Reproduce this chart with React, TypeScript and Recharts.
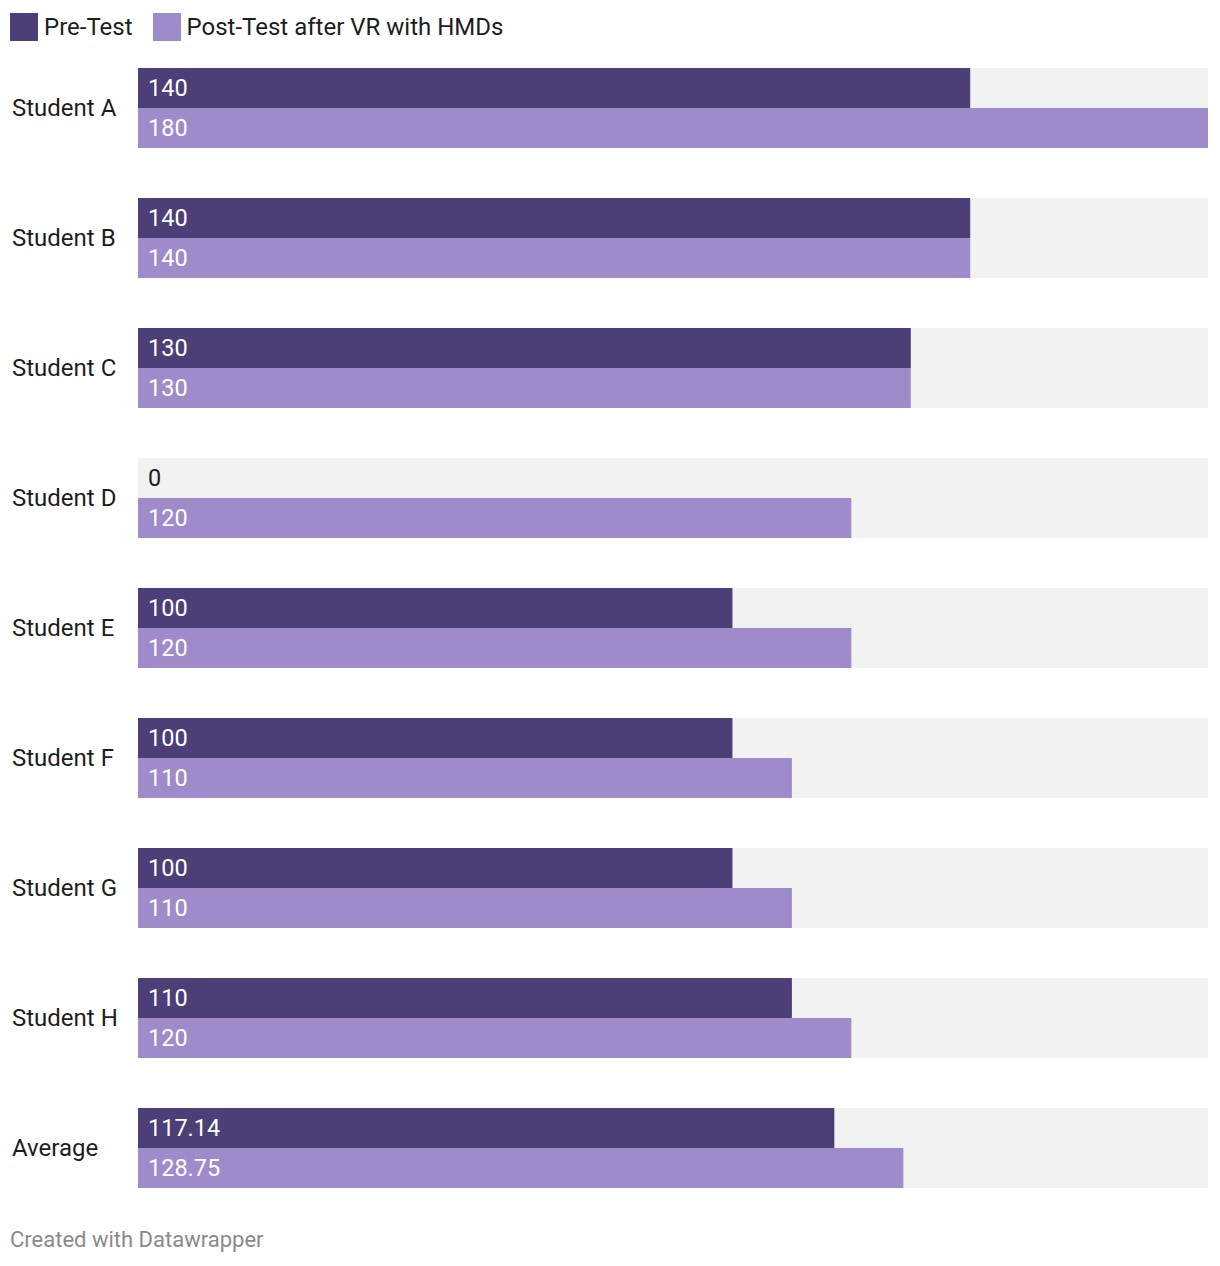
import React from 'react'
import { BarChart, Bar, XAxis, YAxis, LabelList } from 'recharts'

// scores
const students = ['Student A', 'Student B', 'Student C', 'Student D', 'Student E', 'Student F', 'Student G', 'Student H', 'Average']
const preTest = [140, 140, 130, 0, 100, 100, 100, 110, 117.14]
const postTest = [180, 140, 130, 120, 120, 110, 110, 120, 128.75]

const DARK = '#4c3e77'
const LIGHT = '#9f8aca'
const BG = '#f2f2f2'
const FONT = 'Roboto, "Noto Sans", sans-serif'

const data = students.map((name, i) => ({ name, pre: preTest[i], post: postTest[i] }))

const legendItems = [
  { label: 'Pre-Test', color: DARK },
  { label: 'Post-Test after VR with HMDs', color: LIGHT }
]

const StudentTick = ({ y, payload }: any) => (
  <text x={4} y={y} dy="0.35em" textAnchor="start" fontSize={24} fill="#1d1d1d" fontFamily={FONT}>
    {payload.value}
  </text>
)

const ValueLabel = ({ x, y, height, value }: any) => (
  <text
    x={x + 10}
    y={y + height / 2}
    dy="0.36em"
    textAnchor="start"
    fontSize={23.5}
    fill={value === 0 ? '#1d1d1d' : '#ffffff'}
    fontFamily={FONT}
  >
    {value}
  </text>
)

export default function App() {
  return (
    <div style={{ position: 'relative', width: 1204, height: 1250, fontFamily: FONT }}>
      {/* Legend */}
      <div style={{ position: 'absolute', left: 2, top: 5, display: 'flex', alignItems: 'center' }}>
        {legendItems.map((item) => (
          <div key={item.label} style={{ display: 'flex', alignItems: 'center', marginRight: 20 }}>
            <div style={{ width: 28, height: 28, background: item.color, marginRight: 6 }} />
            <span style={{ fontSize: 24, color: '#1d1d1d', lineHeight: '28px' }}>{item.label}</span>
          </div>
        ))}
      </div>

      <div style={{ position: 'absolute', left: 0, top: 0 }}>
        <BarChart
          width={1204}
          height={1205}
          data={data}
          layout="vertical"
          margin={{ top: 35, right: 4, bottom: 0, left: 0 }}
          barGap={0}
          barSize={40}
        >
          <XAxis type="number" domain={[0, 180]} hide />
          <YAxis
            type="category"
            dataKey="name"
            width={130}
            axisLine={false}
            tickLine={false}
            tick={<StudentTick />}
            interval={0}
          />
          <Bar dataKey="pre" fill={DARK} background={{ fill: BG }} minPointSize={0.01} isAnimationActive={false}>
            <LabelList dataKey="pre" content={<ValueLabel />} />
          </Bar>
          <Bar dataKey="post" fill={LIGHT} background={{ fill: BG }} isAnimationActive={false}>
            <LabelList dataKey="post" content={<ValueLabel />} />
          </Bar>
        </BarChart>
      </div>

      <div style={{ position: 'absolute', left: 2, top: 1219, fontSize: 22, color: '#8a8a8a' }}>
        Created with Datawrapper
      </div>
    </div>
  )
}
